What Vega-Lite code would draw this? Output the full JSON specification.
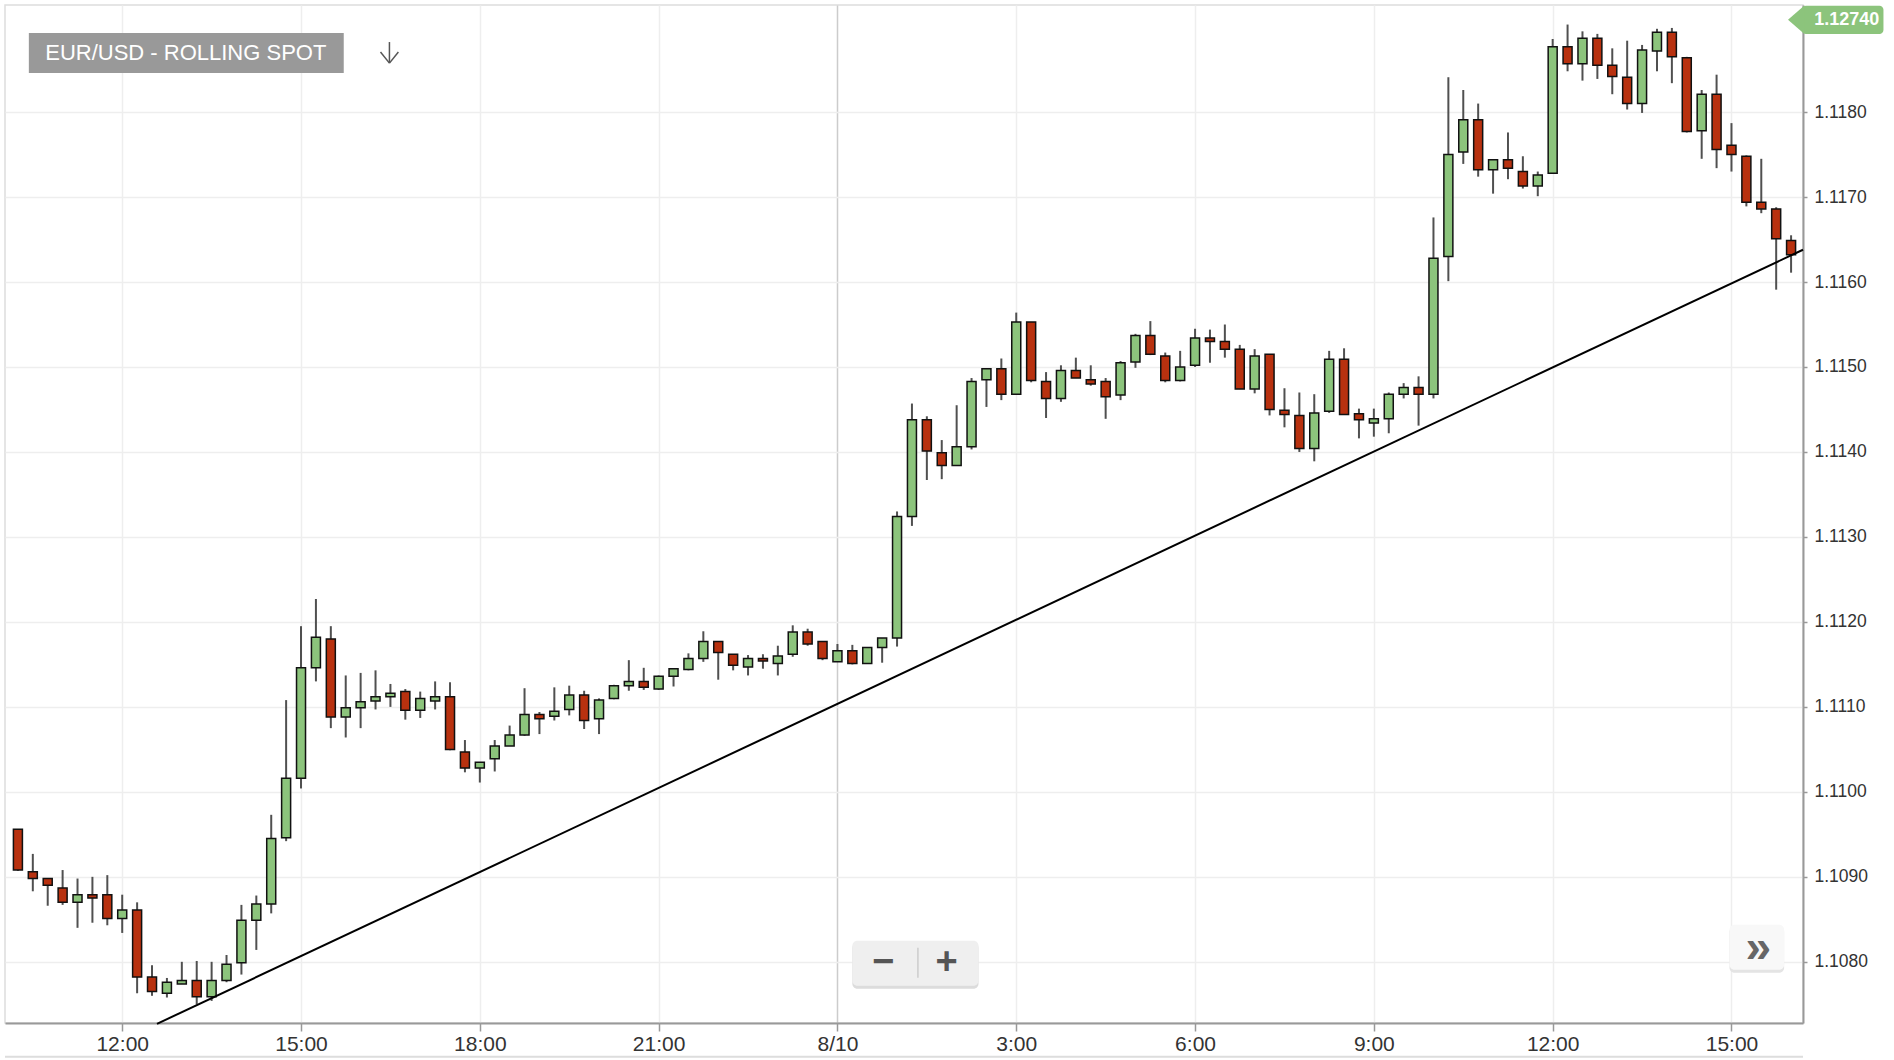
{
  "$schema": "https://vega.github.io/schema/vega-lite/v6.json",
  "width": 1798,
  "height": 1018,
  "autosize": {"type": "none"},
  "padding": {"left": 5, "top": 5, "right": 91, "bottom": 37},
  "background": "white",
  "config": {"view": {"stroke": "#dddddd", "strokeWidth": 1.5}, "font": "Liberation Sans"},
  "datasets": {
    "candles": [
      {"t":"2016-08-09T10:15","o":1.10956,"h":1.10956,"l":1.10907,"c":1.10908},
      {"t":"2016-08-09T10:30","o":1.10906,"h":1.10927,"l":1.10883,"c":1.10898},
      {"t":"2016-08-09T10:45","o":1.10898,"h":1.10898,"l":1.10866,"c":1.10890},
      {"t":"2016-08-09T11:00","o":1.10887,"h":1.10908,"l":1.10867,"c":1.10870},
      {"t":"2016-08-09T11:15","o":1.10870,"h":1.10898,"l":1.10840,"c":1.10879},
      {"t":"2016-08-09T11:30","o":1.10879,"h":1.10900,"l":1.10846,"c":1.10875},
      {"t":"2016-08-09T11:45","o":1.10879,"h":1.10902,"l":1.10843,"c":1.10851},
      {"t":"2016-08-09T12:00","o":1.10851,"h":1.10879,"l":1.10834,"c":1.10861},
      {"t":"2016-08-09T12:15","o":1.10861,"h":1.10870,"l":1.10763,"c":1.10782},
      {"t":"2016-08-09T12:30","o":1.10782,"h":1.10796,"l":1.10760,"c":1.10765},
      {"t":"2016-08-09T12:45","o":1.10763,"h":1.10781,"l":1.10758,"c":1.10776},
      {"t":"2016-08-09T13:00","o":1.10774,"h":1.10800,"l":1.10774,"c":1.10778},
      {"t":"2016-08-09T13:15","o":1.10778,"h":1.10801,"l":1.10750,"c":1.10759},
      {"t":"2016-08-09T13:30","o":1.10759,"h":1.10800,"l":1.10754,"c":1.10778},
      {"t":"2016-08-09T13:45","o":1.10778,"h":1.10808,"l":1.10776,"c":1.10797},
      {"t":"2016-08-09T14:00","o":1.10799,"h":1.10867,"l":1.10785,"c":1.10849},
      {"t":"2016-08-09T14:15","o":1.10849,"h":1.10878,"l":1.10814,"c":1.10868},
      {"t":"2016-08-09T14:30","o":1.10868,"h":1.10973,"l":1.10857,"c":1.10945},
      {"t":"2016-08-09T14:45","o":1.10946,"h":1.11108,"l":1.10942,"c":1.11016},
      {"t":"2016-08-09T15:00","o":1.11016,"h":1.11195,"l":1.11004,"c":1.11146},
      {"t":"2016-08-09T15:15","o":1.11146,"h":1.11227,"l":1.11130,"c":1.11182},
      {"t":"2016-08-09T15:30","o":1.11180,"h":1.11195,"l":1.11075,"c":1.11088},
      {"t":"2016-08-09T15:45","o":1.11088,"h":1.11137,"l":1.11064,"c":1.11099},
      {"t":"2016-08-09T16:00","o":1.11099,"h":1.11140,"l":1.11075,"c":1.11106},
      {"t":"2016-08-09T16:15","o":1.11107,"h":1.11143,"l":1.11097,"c":1.11112},
      {"t":"2016-08-09T16:30","o":1.11112,"h":1.11127,"l":1.11100,"c":1.11116},
      {"t":"2016-08-09T16:45","o":1.11118,"h":1.11121,"l":1.11085,"c":1.11096},
      {"t":"2016-08-09T17:00","o":1.11096,"h":1.11118,"l":1.11087,"c":1.11110},
      {"t":"2016-08-09T17:15","o":1.11107,"h":1.11130,"l":1.11097,"c":1.11112},
      {"t":"2016-08-09T17:30","o":1.11112,"h":1.11129,"l":1.11049,"c":1.11050},
      {"t":"2016-08-09T17:45","o":1.11047,"h":1.11061,"l":1.11023,"c":1.11028},
      {"t":"2016-08-09T18:00","o":1.11028,"h":1.11035,"l":1.11011,"c":1.11035},
      {"t":"2016-08-09T18:15","o":1.11039,"h":1.11061,"l":1.11024,"c":1.11054},
      {"t":"2016-08-09T18:30","o":1.11054,"h":1.11078,"l":1.11054,"c":1.11067},
      {"t":"2016-08-09T18:45","o":1.11067,"h":1.11122,"l":1.11066,"c":1.11091},
      {"t":"2016-08-09T19:00","o":1.11091,"h":1.11094,"l":1.11068,"c":1.11086},
      {"t":"2016-08-09T19:15","o":1.11089,"h":1.11123,"l":1.11084,"c":1.11095},
      {"t":"2016-08-09T19:30","o":1.11097,"h":1.11125,"l":1.11090,"c":1.11114},
      {"t":"2016-08-09T19:45","o":1.11114,"h":1.11119,"l":1.11074,"c":1.11084},
      {"t":"2016-08-09T20:00","o":1.11086,"h":1.11110,"l":1.11068,"c":1.11108},
      {"t":"2016-08-09T20:15","o":1.11110,"h":1.11126,"l":1.11109,"c":1.11125},
      {"t":"2016-08-09T20:30","o":1.11125,"h":1.11155,"l":1.11119,"c":1.11130},
      {"t":"2016-08-09T20:45","o":1.11130,"h":1.11146,"l":1.11120,"c":1.11123},
      {"t":"2016-08-09T21:00","o":1.11121,"h":1.11137,"l":1.11120,"c":1.11136},
      {"t":"2016-08-09T21:15","o":1.11136,"h":1.11145,"l":1.11124,"c":1.11145},
      {"t":"2016-08-09T21:30","o":1.11144,"h":1.11163,"l":1.11143,"c":1.11157},
      {"t":"2016-08-09T21:45","o":1.11157,"h":1.11189,"l":1.11153,"c":1.11177},
      {"t":"2016-08-09T22:00","o":1.11177,"h":1.11177,"l":1.11132,"c":1.11164},
      {"t":"2016-08-09T22:15","o":1.11162,"h":1.11162,"l":1.11143,"c":1.11149},
      {"t":"2016-08-09T22:30","o":1.11147,"h":1.11161,"l":1.11137,"c":1.11157},
      {"t":"2016-08-09T22:45","o":1.11157,"h":1.11162,"l":1.11145,"c":1.11154},
      {"t":"2016-08-09T23:00","o":1.11151,"h":1.11172,"l":1.11137,"c":1.11160},
      {"t":"2016-08-09T23:15","o":1.11162,"h":1.11196,"l":1.11159,"c":1.11188},
      {"t":"2016-08-09T23:30","o":1.11188,"h":1.11192,"l":1.11172,"c":1.11174},
      {"t":"2016-08-09T23:45","o":1.11177,"h":1.11177,"l":1.11155,"c":1.11157},
      {"t":"2016-08-10T00:00","o":1.11153,"h":1.11174,"l":1.11153,"c":1.11166},
      {"t":"2016-08-10T00:15","o":1.11166,"h":1.11173,"l":1.11150,"c":1.11151},
      {"t":"2016-08-10T00:30","o":1.11151,"h":1.11170,"l":1.11151,"c":1.11170},
      {"t":"2016-08-10T00:45","o":1.11170,"h":1.11181,"l":1.11152,"c":1.11181},
      {"t":"2016-08-10T01:00","o":1.11181,"h":1.11330,"l":1.11171,"c":1.11324},
      {"t":"2016-08-10T01:15","o":1.11324,"h":1.11457,"l":1.11313,"c":1.11438},
      {"t":"2016-08-10T01:30","o":1.11438,"h":1.11442,"l":1.11367,"c":1.11401},
      {"t":"2016-08-10T01:45","o":1.11399,"h":1.11414,"l":1.11368,"c":1.11384},
      {"t":"2016-08-10T02:00","o":1.11384,"h":1.11455,"l":1.11384,"c":1.11406},
      {"t":"2016-08-10T02:15","o":1.11406,"h":1.11487,"l":1.11403,"c":1.11483},
      {"t":"2016-08-10T02:30","o":1.11485,"h":1.11498,"l":1.11453,"c":1.11498},
      {"t":"2016-08-10T02:45","o":1.11498,"h":1.11510,"l":1.11461,"c":1.11468},
      {"t":"2016-08-10T03:00","o":1.11468,"h":1.11564,"l":1.11468,"c":1.11553},
      {"t":"2016-08-10T03:15","o":1.11553,"h":1.11553,"l":1.11482,"c":1.11484},
      {"t":"2016-08-10T03:30","o":1.11483,"h":1.11494,"l":1.11440,"c":1.11463},
      {"t":"2016-08-10T03:45","o":1.11463,"h":1.11502,"l":1.11459,"c":1.11496},
      {"t":"2016-08-10T04:00","o":1.11496,"h":1.11511,"l":1.11487,"c":1.11487},
      {"t":"2016-08-10T04:15","o":1.11485,"h":1.11502,"l":1.11478,"c":1.11480},
      {"t":"2016-08-10T04:30","o":1.11483,"h":1.11487,"l":1.11439,"c":1.11465},
      {"t":"2016-08-10T04:45","o":1.11467,"h":1.11507,"l":1.11461,"c":1.11505},
      {"t":"2016-08-10T05:00","o":1.11506,"h":1.11539,"l":1.11499,"c":1.11537},
      {"t":"2016-08-10T05:15","o":1.11537,"h":1.11554,"l":1.11514,"c":1.11515},
      {"t":"2016-08-10T05:30","o":1.11513,"h":1.11517,"l":1.11482,"c":1.11484},
      {"t":"2016-08-10T05:45","o":1.11484,"h":1.11519,"l":1.11483,"c":1.11500},
      {"t":"2016-08-10T06:00","o":1.11502,"h":1.11545,"l":1.11500,"c":1.11534},
      {"t":"2016-08-10T06:15","o":1.11534,"h":1.11544,"l":1.11505,"c":1.11530},
      {"t":"2016-08-10T06:30","o":1.11530,"h":1.11550,"l":1.11511,"c":1.11521},
      {"t":"2016-08-10T06:45","o":1.11521,"h":1.11526,"l":1.11474,"c":1.11474},
      {"t":"2016-08-10T07:00","o":1.11474,"h":1.11521,"l":1.11469,"c":1.11513},
      {"t":"2016-08-10T07:15","o":1.11515,"h":1.11515,"l":1.11443,"c":1.11450},
      {"t":"2016-08-10T07:30","o":1.11449,"h":1.11475,"l":1.11429,"c":1.11444},
      {"t":"2016-08-10T07:45","o":1.11443,"h":1.11470,"l":1.11400,"c":1.11404},
      {"t":"2016-08-10T08:00","o":1.11404,"h":1.11468,"l":1.11389,"c":1.11446},
      {"t":"2016-08-10T08:15","o":1.11448,"h":1.11519,"l":1.11446,"c":1.11509},
      {"t":"2016-08-10T08:30","o":1.11509,"h":1.11522,"l":1.11444,"c":1.11444},
      {"t":"2016-08-10T08:45","o":1.11445,"h":1.11451,"l":1.11416,"c":1.11438},
      {"t":"2016-08-10T09:00","o":1.11434,"h":1.11451,"l":1.11418,"c":1.11439},
      {"t":"2016-08-10T09:15","o":1.11439,"h":1.11470,"l":1.11422,"c":1.11468},
      {"t":"2016-08-10T09:30","o":1.11468,"h":1.11481,"l":1.11463,"c":1.11476},
      {"t":"2016-08-10T09:45","o":1.11476,"h":1.11489,"l":1.11431,"c":1.11468},
      {"t":"2016-08-10T10:00","o":1.11468,"h":1.11676,"l":1.11463,"c":1.11628},
      {"t":"2016-08-10T10:15","o":1.11630,"h":1.11841,"l":1.11601,"c":1.11750},
      {"t":"2016-08-10T10:30","o":1.11753,"h":1.11826,"l":1.11739,"c":1.11791},
      {"t":"2016-08-10T10:45","o":1.11791,"h":1.11810,"l":1.11724,"c":1.11732},
      {"t":"2016-08-10T11:00","o":1.11732,"h":1.11744,"l":1.11704,"c":1.11744},
      {"t":"2016-08-10T11:15","o":1.11744,"h":1.11776,"l":1.11721,"c":1.11734},
      {"t":"2016-08-10T11:30","o":1.11730,"h":1.11748,"l":1.11710,"c":1.11713},
      {"t":"2016-08-10T11:45","o":1.11713,"h":1.11730,"l":1.11701,"c":1.11726},
      {"t":"2016-08-10T12:00","o":1.11728,"h":1.11886,"l":1.11728,"c":1.11877},
      {"t":"2016-08-10T12:15","o":1.11877,"h":1.11903,"l":1.11848,"c":1.11857},
      {"t":"2016-08-10T12:30","o":1.11857,"h":1.11895,"l":1.11837,"c":1.11887},
      {"t":"2016-08-10T12:45","o":1.11887,"h":1.11892,"l":1.11839,"c":1.11855},
      {"t":"2016-08-10T13:00","o":1.11855,"h":1.11875,"l":1.11821,"c":1.11842},
      {"t":"2016-08-10T13:15","o":1.11841,"h":1.11884,"l":1.11803,"c":1.11810},
      {"t":"2016-08-10T13:30","o":1.11810,"h":1.11879,"l":1.11799,"c":1.11873},
      {"t":"2016-08-10T13:45","o":1.11872,"h":1.11898,"l":1.11848,"c":1.11894},
      {"t":"2016-08-10T14:00","o":1.11894,"h":1.11899,"l":1.11834,"c":1.11865},
      {"t":"2016-08-10T14:15","o":1.11864,"h":1.11865,"l":1.11776,"c":1.11777},
      {"t":"2016-08-10T14:30","o":1.11778,"h":1.11826,"l":1.11745,"c":1.11821},
      {"t":"2016-08-10T14:45","o":1.11821,"h":1.11844,"l":1.11734,"c":1.11756},
      {"t":"2016-08-10T15:00","o":1.11761,"h":1.11787,"l":1.11730,"c":1.11750},
      {"t":"2016-08-10T15:15","o":1.11748,"h":1.11749,"l":1.11689,"c":1.11694},
      {"t":"2016-08-10T15:30","o":1.11694,"h":1.11745,"l":1.11681,"c":1.11686},
      {"t":"2016-08-10T15:45","o":1.11686,"h":1.11688,"l":1.11591,"c":1.11651},
      {"t":"2016-08-10T16:00","o":1.11649,"h":1.11655,"l":1.11611,"c":1.11632}
    ],
    "trend": [
      {"t":"2016-08-09T12:35","v":1.10727},
      {"t":"2016-08-10T16:12","v":1.11638}
    ]
  },
  "layer": [
    {
      "data": {"name": "candles"},
      "mark": {"type": "rule", "strokeWidth": 2, "color": "#505050"},
      "encoding": {
        "x": {
          "field": "t", "type": "temporal",
          "scale": {"domain": [{"year":2016,"month":8,"date":9,"hours":10,"minutes":2}, {"year":2016,"month":8,"date":10,"hours":16,"minutes":12}], "padding": 0, "nice": false},
          "axis": {
            "title": null,
            "values": [
              {"year":2016,"month":8,"date":9,"hours":12},
              {"year":2016,"month":8,"date":9,"hours":15},
              {"year":2016,"month":8,"date":9,"hours":18},
              {"year":2016,"month":8,"date":9,"hours":21},
              {"year":2016,"month":8,"date":10,"hours":0},
              {"year":2016,"month":8,"date":10,"hours":3},
              {"year":2016,"month":8,"date":10,"hours":6},
              {"year":2016,"month":8,"date":10,"hours":9},
              {"year":2016,"month":8,"date":10,"hours":12},
              {"year":2016,"month":8,"date":10,"hours":15}
            ],
            "labelExpr": "hours(datum.value) == 0 ? timeFormat(datum.value, '%-m/%-d') : timeFormat(datum.value, '%-H:%M')",
            "labelFontSize": 21,
            "labelColor": "#333333",
            "labelFont": "Liberation Sans",
            "labelPadding": 2,
            "labelFlush": false,
            "domainColor": "#999999",
            "domainWidth": 2,
            "tickColor": "#999999",
            "tickSize": 8,
            "tickWidth": 1.5,
            "grid": true,
            "gridColor": {"condition": {"test": "hours(datum.value) == 0", "value": "#cccccc"}, "value": "#eeeeee"},
            "gridWidth": 1.5
          }
        },
        "y": {
          "field": "l", "type": "quantitative",
          "scale": {"domain": [1.10728, 1.11926], "zero": false, "nice": false, "padding": 0},
          "axis": {
            "orient": "right",
            "title": null,
            "values": [1.108, 1.109, 1.110, 1.111, 1.112, 1.113, 1.114, 1.115, 1.116, 1.117, 1.118],
            "format": ".4f",
            "labelFontSize": 17.5,
            "labelColor": "#333333",
            "labelFont": "Liberation Sans",
            "labelPadding": 7,
            "labelFlush": false,
            "domainColor": "#999999",
            "domainWidth": 2,
            "tickColor": "#999999",
            "tickSize": 4,
            "tickWidth": 1.5,
            "grid": true,
            "gridColor": "#eeeeee",
            "gridWidth": 1.5
          }
        },
        "y2": {"field": "h"}
      }
    },
    {
      "data": {"name": "candles"},
      "mark": {"type": "bar", "size": 9, "stroke": "#111111", "strokeWidth": 1.5},
      "encoding": {
        "x": {"field": "t", "type": "temporal"},
        "y": {"field": "o", "type": "quantitative"},
        "y2": {"field": "c"},
        "fill": {"condition": {"test": "datum.c >= datum.o", "value": "#8cc47c"}, "value": "#b8310f"}
      }
    },
    {
      "data": {"name": "trend"},
      "mark": {"type": "line", "color": "#000000", "strokeWidth": 2},
      "encoding": {
        "x": {"field": "t", "type": "temporal"},
        "y": {"field": "v", "type": "quantitative"}
      }
    },
    {
      "data": {"values": [{}]},
      "mark": {"type": "rule", "color": "#dddddd", "strokeWidth": 2},
      "encoding": {"y": {"datum": 1.106882, "type": "quantitative"}}
    },
    {
      "data": {"values": [{}]},
      "mark": {"type": "rect", "fill": "#999999"},
      "encoding": {
        "x": {"datum": {"year":2016,"month":8,"date":9,"hours":10,"minutes":26}, "type": "temporal"},
        "x2": {"datum": {"year":2016,"month":8,"date":9,"hours":15,"minutes":43}},
        "y": {"datum": 1.11893, "type": "quantitative"},
        "y2": {"datum": 1.11846}
      }
    },
    {
      "data": {"values": [{}]},
      "mark": {"type": "text", "text": "EUR/USD - ROLLING SPOT", "fontSize": 22, "font": "Liberation Sans", "color": "#ffffff", "align": "center", "baseline": "middle"},
      "encoding": {
        "x": {"datum": {"year":2016,"month":8,"date":9,"hours":13,"minutes":4}, "type": "temporal"},
        "y": {"datum": 1.11869, "type": "quantitative"}
      }
    },
    {
      "data": {"values": [{}]},
      "mark": {"type": "rule", "color": "#555555", "strokeWidth": 1.5},
      "encoding": {
        "x": {"datum": {"year":2016,"month":8,"date":9,"hours":16,"minutes":29}, "type": "temporal"},
        "y": {"datum": 1.118824, "type": "quantitative"},
        "y2": {"datum": 1.118576}
      }
    },
    {
      "data": {"values": [{}]},
      "mark": {"type": "rule", "color": "#555555", "strokeWidth": 1.5},
      "encoding": {
        "x": {"datum": {"year":2016,"month":8,"date":9,"hours":16,"minutes":20}, "type": "temporal"},
        "x2": {"datum": {"year":2016,"month":8,"date":9,"hours":16,"minutes":29}},
        "y": {"datum": 1.118706, "type": "quantitative"},
        "y2": {"datum": 1.118576}
      }
    },
    {
      "data": {"values": [{}]},
      "mark": {"type": "rule", "color": "#555555", "strokeWidth": 1.5},
      "encoding": {
        "x": {"datum": {"year":2016,"month":8,"date":9,"hours":16,"minutes":38}, "type": "temporal"},
        "x2": {"datum": {"year":2016,"month":8,"date":9,"hours":16,"minutes":29}},
        "y": {"datum": 1.118706, "type": "quantitative"},
        "y2": {"datum": 1.118576}
      }
    },
    {
      "data": {"values": [{}]},
      "mark": {"type": "rect", "fill": "#8cc47c", "cornerRadius": 4},
      "encoding": {
        "x": {"datum": {"year":2016,"month":8,"date":10,"hours":16,"minutes":11}, "type": "temporal"},
        "x2": {"datum": {"year":2016,"month":8,"date":10,"hours":17,"minutes":33}},
        "y": {"datum": 1.11925, "type": "quantitative"},
        "y2": {"datum": 1.11892}
      }
    },
    {
      "data": {"values": [{}]},
      "mark": {"type": "point", "shape": "M 0.15 -1 L -1 0 L 0.15 1 Z", "filled": true, "fill": "#8cc47c", "opacity": 1, "size": 784, "strokeWidth": 0},
      "encoding": {
        "x": {"datum": {"year":2016,"month":8,"date":10,"hours":16,"minutes":11}, "type": "temporal"},
        "y": {"datum": 1.119085, "type": "quantitative"}
      }
    },
    {
      "data": {"values": [{}]},
      "mark": {"type": "text", "text": "1.12740", "fontSize": 18, "fontWeight": "bold", "font": "Liberation Sans", "color": "#ffffff", "align": "center", "baseline": "middle"},
      "encoding": {
        "x": {"datum": {"year":2016,"month":8,"date":10,"hours":16,"minutes":56}, "type": "temporal"},
        "y": {"datum": 1.119085, "type": "quantitative"}
      }
    },
    {
      "data": {"values": [{}]},
      "mark": {"type": "rect", "fill": "#dcdcdc", "cornerRadius": 5},
      "encoding": {
        "x": {"datum": {"year":2016,"month":8,"date":10,"hours":0,"minutes":15}, "type": "temporal"},
        "x2": {"datum": {"year":2016,"month":8,"date":10,"hours":2,"minutes":22}},
        "y": {"datum": 1.108224, "type": "quantitative"},
        "y2": {"datum": 1.107682}
      }
    },
    {
      "data": {"values": [{}]},
      "mark": {"type": "rect", "fill": "#efefef", "cornerRadius": 5},
      "encoding": {
        "x": {"datum": {"year":2016,"month":8,"date":10,"hours":0,"minutes":15}, "type": "temporal"},
        "x2": {"datum": {"year":2016,"month":8,"date":10,"hours":2,"minutes":22}},
        "y": {"datum": 1.108247, "type": "quantitative"},
        "y2": {"datum": 1.107718}
      }
    },
    {
      "data": {"values": [{}]},
      "mark": {"type": "rule", "color": "#cccccc", "strokeWidth": 1.5},
      "encoding": {
        "x": {"datum": {"year":2016,"month":8,"date":10,"hours":1,"minutes":21}, "type": "temporal"},
        "y": {"datum": 1.108165, "type": "quantitative"},
        "y2": {"datum": 1.107812}
      }
    },
    {
      "data": {"values": [{}]},
      "mark": {"type": "text", "text": "−", "fontSize": 38, "fontWeight": "bold", "font": "Liberation Sans", "color": "#555555", "align": "center", "baseline": "middle"},
      "encoding": {
        "x": {"datum": {"year":2016,"month":8,"date":10,"hours":0,"minutes":46}, "type": "temporal"},
        "y": {"datum": 1.107988, "type": "quantitative"}
      }
    },
    {
      "data": {"values": [{}]},
      "mark": {"type": "text", "text": "+", "fontSize": 38, "fontWeight": "bold", "font": "Liberation Sans", "color": "#555555", "align": "center", "baseline": "middle"},
      "encoding": {
        "x": {"datum": {"year":2016,"month":8,"date":10,"hours":1,"minutes":50}, "type": "temporal"},
        "y": {"datum": 1.107988, "type": "quantitative"}
      }
    },
    {
      "data": {"values": [{}]},
      "mark": {"type": "rect", "fill": "#e4e4e4", "cornerRadius": 5},
      "encoding": {
        "x": {"datum": {"year":2016,"month":8,"date":10,"hours":14,"minutes":58}, "type": "temporal"},
        "x2": {"datum": {"year":2016,"month":8,"date":10,"hours":15,"minutes":53}},
        "y": {"datum": 1.108412, "type": "quantitative"},
        "y2": {"datum": 1.107870}
      }
    },
    {
      "data": {"values": [{}]},
      "mark": {"type": "rect", "fill": "#f8f8f8", "cornerRadius": 5},
      "encoding": {
        "x": {"datum": {"year":2016,"month":8,"date":10,"hours":14,"minutes":58}, "type": "temporal"},
        "x2": {"datum": {"year":2016,"month":8,"date":10,"hours":15,"minutes":53}},
        "y": {"datum": 1.108435, "type": "quantitative"},
        "y2": {"datum": 1.107906}
      }
    },
    {
      "data": {"values": [{}]},
      "mark": {"type": "text", "text": "»", "fontSize": 46, "fontWeight": "bold", "font": "Liberation Sans", "color": "#666666", "align": "center", "baseline": "middle"},
      "encoding": {
        "x": {"datum": {"year":2016,"month":8,"date":10,"hours":15,"minutes":27}, "type": "temporal"},
        "y": {"datum": 1.108165, "type": "quantitative"}
      }
    }
  ]
}
